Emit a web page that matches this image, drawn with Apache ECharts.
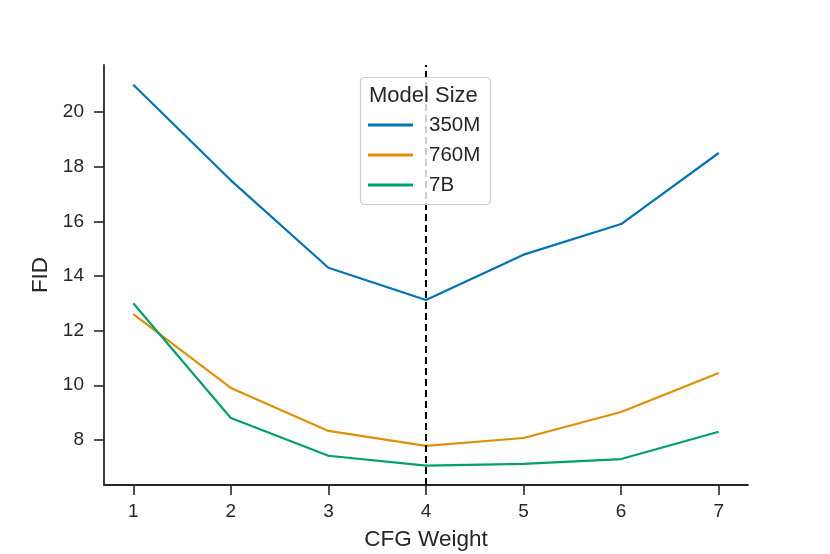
<!DOCTYPE html>
<html><head><meta charset="utf-8">
<script src="https://cdn.jsdelivr.net/npm/echarts@6/dist/echarts.min.js"></script>
<style>html,body{margin:0;padding:0;background:#fff}#c{width:830px;height:554px}</style>
</head><body><div id="c"></div>
<script>
const cfgWeights = [1, 2, 3, 4, 5, 6, 7];
const fid350M = [21.0, 17.5, 14.3, 13.12, 14.78, 15.9, 18.5];
const fid760M = [12.6, 9.9, 8.33, 7.78, 8.07, 9.02, 10.45];
const fid7B = [13.0, 8.8, 7.42, 7.06, 7.12, 7.3, 8.3];
const yTicks = [8, 10, 12, 14, 16, 18, 20];
const seriesNames = ['350M', '760M', '7B'];
const colors = ['#0173b2', '#de8f05', '#029e73'];
const optimumWeight = 4;

const font = 'Liberation Sans, Arial, sans-serif';
const ink = '#262626';
const chart = echarts.init(document.getElementById('c'), null, {renderer: 'canvas'});
const mk = (name, vals, i) => ({
  name, type: 'line', data: cfgWeights.map((x, k) => [x, vals[k]]),
  symbol: 'none', lineStyle: {width: 2.2, color: colors[i]}, itemStyle: {color: colors[i]}, z: 2
});
const series = [mk(seriesNames[0], fid350M, 0), mk(seriesNames[1], fid760M, 1), mk(seriesNames[2], fid7B, 2)];
series[0].markLine = {
  silent: true, symbol: 'none', label: {show: false},
  lineStyle: {color: '#000', type: [7, 4], width: 2},
  data: [{xAxis: optimumWeight}]
};
chart.setOption({
  animation: false,
  backgroundColor: '#fff',
  grid: {left: 104, right: 82, top: 65, bottom: 69, outerBoundsMode: 'none', containLabel: false},
  xAxis: {
    type: 'value', min: 0.7, max: 7.3,
    name: 'CFG Weight', nameLocation: 'middle', nameGap: 43,
    nameTextStyle: {fontFamily: font, fontSize: 22.5, color: ink},
    axisLine: {lineStyle: {color: ink, width: 1.8}},
    axisTick: {show: true, length: 10, lineStyle: {color: ink, width: 1.6}, customValues: cfgWeights},
    axisLabel: {fontFamily: font, fontSize: 19, color: ink, margin: 17, customValues: cfgWeights},
    splitLine: {show: false}
  },
  yAxis: {
    type: 'value', min: 6.35, max: 21.72,
    name: 'FID', nameLocation: 'middle', nameGap: 49, nameRotate: 90,
    nameTextStyle: {fontFamily: font, fontSize: 22.5, color: ink},
    axisLine: {show: true, lineStyle: {color: ink, width: 1.8}},
    axisTick: {show: true, length: 10, lineStyle: {color: ink, width: 1.6}, customValues: yTicks},
    axisLabel: {fontFamily: font, fontSize: 19, color: ink, margin: 20, padding: [2, 0, 0, 0], customValues: yTicks},
    splitLine: {show: false}
  },
  legend: {
    data: seriesNames, orient: 'vertical', left: 368, top: 114, padding: 0,
    itemWidth: 45, itemHeight: 3, itemGap: 8,
    icon: 'rect',
    textStyle: {fontFamily: font, fontSize: 20.5, color: ink, padding: [0, 0, 0, 11], lineHeight: 22},
    z: 20
  },
  graphic: [
    {type: 'rect', z: 10, shape: {x: 360.5, y: 77.5, width: 130, height: 127, r: 4},
     style: {fill: 'rgba(255,255,255,0.8)', stroke: '#cccccc', lineWidth: 1.2}},
    {type: 'text', z: 11, left: 369, top: 85,
     style: {text: 'Model Size', fontFamily: font, fontSize: 22, fill: ink}}
  ],
  series
});
</script></body></html>
